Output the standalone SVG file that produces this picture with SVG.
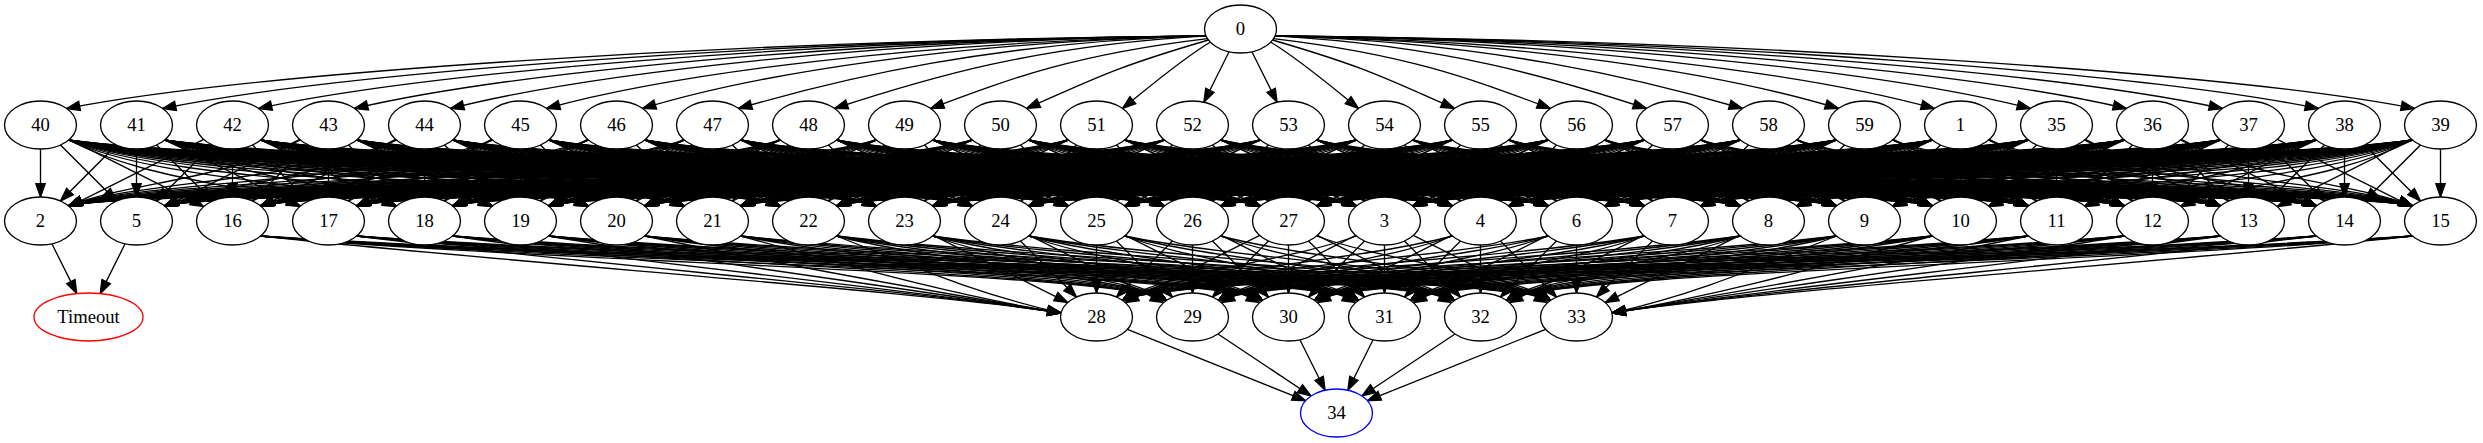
<svg xmlns="http://www.w3.org/2000/svg" xmlns:xlink="http://www.w3.org/1999/xlink" width="2483" height="443" viewBox="0 0 2483 443">
<style>
.node ellipse{fill:#fff;stroke:#000;stroke-width:1.33}
.node text{font-family:"Liberation Serif","Times New Roman",serif;font-size:18.67px;text-anchor:middle;fill:#000}
#nTimeout ellipse{stroke:#f00}
#n34 ellipse{stroke:#00f}
</style>
<defs>
<marker id="ah" markerUnits="userSpaceOnUse" markerWidth="14" markerHeight="10" refX="13.3" refY="4.67" orient="auto" style="overflow:visible"><path d="M0,0L13.3,4.67L0,9.33Z" fill="#000" stroke="#000" stroke-width="1.33"/></marker>
<g id="top">
<path d="M11.4,51.8L36.6,102.2"/>
<path d="M30,42C60,60 95,90 118,108.5"/>
<path d="M32,40C128,68 145.2,78.5 214,108.5"/>
<path d="M33,38.6C167.4,54.6 229.7,78.5 310,108.5"/>
<path d="M34.5,35.9C207.3,45.9 314.2,78.5 406,108.5"/>
<path d="M34.5,35.9C245.7,41.9 398.6,78.5 502,108.5"/>
<path d="M34.5,35.9C284.1,41.9 483.1,73.5 598,108.5"/>
<path d="M34.5,35.9C322.5,41.9 567.6,73.5 694,108.5"/>
<path d="M34.5,35.9C360.9,39.9 652.1,73.5 790,108.5"/>
<path d="M34.5,35.9C399.3,39.9 736.6,73.5 886,108.5"/>
<path d="M34.5,35.9C437.7,39.9 821,73.5 982,108.5"/>
<path d="M34.5,35.9C476.1,39.9 905.5,73.5 1078,108.5"/>
<path d="M34.5,35.9C514.5,39.9 994,73.5 1174,108.5"/>
</g>
<g id="r1"><path d="M20,145L76,201"/></g>
<g id="r2"><use href="#r1"/><path d="M28.8,139.4L163.2,206.6"/></g>
<g id="r3"><use href="#r2"/><path d="M28,140C110,182 200,182 260,206"/></g>
<g id="r4"><use href="#r3"/><path d="M28,140C120,182 296,182 356,206"/></g>
<g id="r5"><use href="#r4"/><path d="M28,140C130,182 392,182 452,206"/></g>
<g id="r6"><use href="#r5"/><path d="M28,140C140,182 488,182 548,206"/></g>
<g id="r7"><use href="#r6"/><path d="M28,140C150,182 584,182 644,206"/></g>
<g id="r8"><use href="#r7"/><path d="M28,140C160,182 680,182 740,206"/></g>
<g id="r9"><use href="#r8"/><path d="M28,140C170,182 776,182 836,206"/></g>
<g id="r10"><use href="#r9"/><path d="M28,140C180,182 872,182 932,206"/></g>
<g id="r11"><use href="#r10"/><path d="M28,140C190,182 968,182 1028,206"/></g>
<g id="r12"><use href="#r11"/><path d="M28,140C200,182 1064,182 1124,206"/></g>
<g id="r13"><use href="#r12"/><path d="M28,140C210,182 1160,182 1220,206"/></g>
<g id="r14"><use href="#r13"/><path d="M28,140C220,182 1256,182 1316,206"/></g>
<g id="r15"><use href="#r14"/><path d="M28,140C230,182 1352,182 1412,206"/></g>
<g id="r16"><use href="#r15"/><path d="M28,140C240,182 1448,182 1508,206"/></g>
<g id="r17"><use href="#r16"/><path d="M28,140C250,182 1544,182 1604,206"/></g>
<g id="r18"><use href="#r17"/><path d="M28,140C260,182 1640,182 1700,206"/></g>
<g id="r19"><use href="#r18"/><path d="M28,140C270,182 1736,182 1796,206"/></g>
<g id="r20"><use href="#r19"/><path d="M28,140C280,182 1832,182 1892,206"/></g>
<g id="r21"><use href="#r20"/><path d="M28,140C290,182 1928,182 1988,206"/></g>
<g id="r22"><use href="#r21"/><path d="M28,140C300,182 2024,182 2084,206"/></g>
<g id="r23"><use href="#r22"/><path d="M28,140C310,182 2120,182 2180,206"/></g>
<g id="r24"><use href="#r23"/><path d="M28,140C320,182 2216,182 2276,206"/></g>
<g id="r25"><use href="#r24"/><path d="M28,140C330,182 2312,182 2372,206"/></g>
<path id="a0" d="M0,245V293"/>
<path id="a1" d="M20,241L76,297"/>
<path id="a2" d="M28.8,235.4L163.2,302.6"/>
<path id="b3" d="M28,236C95.4,262 162.7,293 252.5,313"/>
<path id="b4" d="M28,236C124.2,262 228.5,293 348.5,313"/>
<path id="b5" d="M28,236C153,262 324.5,293 444.5,313"/>
<path id="b6" d="M28,236C181.8,262 420.5,293 540.5,313"/>
<path id="b7" d="M28,236C210.6,262 516.5,293 636.5,313"/>
<path id="b8" d="M28,236C239.4,262 612.5,293 732.5,313"/>
<path id="b9" d="M28,236C268.2,262 708.5,293 828.5,313"/>
<path id="c3" d="M28,236C98.2,262 222,272.5 262,300.5"/>
<path id="c4" d="M28,236C127,262 318,272.5 358,300.5"/>
<path id="c5" d="M28,236C155.8,262 414,272.5 454,300.5"/>
<path id="c6" d="M28,236C184.6,262 510,272.5 550,300.5"/>
<path id="c7" d="M28,236C213.4,262 606,272.5 646,300.5"/>
<path id="c8" d="M28,236C242.2,262 702,272.5 742,300.5"/>
<path id="c9" d="M28,236C271,262 798,272.5 838,300.5"/>
<path id="c10" d="M28,236C299.8,262 894,272.5 934,300.5"/>
<path id="c11" d="M28,236C328.6,262 990,272.5 1030,300.5"/>
<path id="c12" d="M28,236C357.4,262 1086,272.5 1126,300.5"/>
<path id="c13" d="M28,236C386.2,262 1182,272.5 1222,300.5"/>
<path id="c14" d="M28,236C415,262 1278,272.5 1318,300.5"/>
</defs>
<g id="edges" fill="none" stroke="#000" stroke-width="1.33" marker-end="url(#ah)">
<g id="e0" transform="translate(1240.5,0)"><use href="#top"/><use href="#top" transform="scale(-1,1)"/></g>
<g id="e-row1">
<g transform="translate(40.5,0)"><path d="M0,149V197"/><use href="#r25"/></g>
<g transform="translate(136.5,0)"><path d="M0,149V197"/><use href="#r24"/><use href="#r1" transform="scale(-1,1)"/></g>
<g transform="translate(232.5,0)"><path d="M0,149V197"/><use href="#r23"/><use href="#r2" transform="scale(-1,1)"/></g>
<g transform="translate(328.5,0)"><path d="M0,149V197"/><use href="#r22"/><use href="#r3" transform="scale(-1,1)"/></g>
<g transform="translate(424.5,0)"><path d="M0,149V197"/><use href="#r21"/><use href="#r4" transform="scale(-1,1)"/></g>
<g transform="translate(520.5,0)"><path d="M0,149V197"/><use href="#r20"/><use href="#r5" transform="scale(-1,1)"/></g>
<g transform="translate(616.5,0)"><path d="M0,149V197"/><use href="#r19"/><use href="#r6" transform="scale(-1,1)"/></g>
<g transform="translate(712.5,0)"><path d="M0,149V197"/><use href="#r18"/><use href="#r7" transform="scale(-1,1)"/></g>
<g transform="translate(808.5,0)"><path d="M0,149V197"/><use href="#r17"/><use href="#r8" transform="scale(-1,1)"/></g>
<g transform="translate(904.5,0)"><path d="M0,149V197"/><use href="#r16"/><use href="#r9" transform="scale(-1,1)"/></g>
<g transform="translate(1000.5,0)"><path d="M0,149V197"/><use href="#r15"/><use href="#r10" transform="scale(-1,1)"/></g>
<g transform="translate(1096.5,0)"><path d="M0,149V197"/><use href="#r14"/><use href="#r11" transform="scale(-1,1)"/></g>
<g transform="translate(1192.5,0)"><path d="M0,149V197"/><use href="#r13"/><use href="#r12" transform="scale(-1,1)"/></g>
<g transform="translate(1288.5,0)"><path d="M0,149V197"/><use href="#r12"/><use href="#r13" transform="scale(-1,1)"/></g>
<g transform="translate(1384.5,0)"><path d="M0,149V197"/><use href="#r11"/><use href="#r14" transform="scale(-1,1)"/></g>
<g transform="translate(1480.5,0)"><path d="M0,149V197"/><use href="#r10"/><use href="#r15" transform="scale(-1,1)"/></g>
<g transform="translate(1576.5,0)"><path d="M0,149V197"/><use href="#r9"/><use href="#r16" transform="scale(-1,1)"/></g>
<g transform="translate(1672.5,0)"><path d="M0,149V197"/><use href="#r8"/><use href="#r17" transform="scale(-1,1)"/></g>
<g transform="translate(1768.5,0)"><path d="M0,149V197"/><use href="#r7"/><use href="#r18" transform="scale(-1,1)"/></g>
<g transform="translate(1864.5,0)"><path d="M0,149V197"/><use href="#r6"/><use href="#r19" transform="scale(-1,1)"/></g>
<g transform="translate(1960.5,0)"><path d="M0,149V197"/><use href="#r5"/><use href="#r20" transform="scale(-1,1)"/></g>
<g transform="translate(2056.5,0)"><path d="M0,149V197"/><use href="#r4"/><use href="#r21" transform="scale(-1,1)"/></g>
<g transform="translate(2152.5,0)"><path d="M0,149V197"/><use href="#r3"/><use href="#r22" transform="scale(-1,1)"/></g>
<g transform="translate(2248.5,0)"><path d="M0,149V197"/><use href="#r2"/><use href="#r23" transform="scale(-1,1)"/></g>
<g transform="translate(2344.5,0)"><path d="M0,149V197"/><use href="#r1"/><use href="#r24" transform="scale(-1,1)"/></g>
<g transform="translate(2440.5,0)"><path d="M0,149V197"/><use href="#r25" transform="scale(-1,1)"/></g>
</g>
<g id="e-row2">
<g transform="translate(232.5,0)"><use href="#b9"/><use href="#c10"/><use href="#c11"/><use href="#c12"/><use href="#c13"/><use href="#c14"/></g>
<g transform="translate(328.5,0)"><use href="#b8"/><use href="#c9"/><use href="#c10"/><use href="#c11"/><use href="#c12"/><use href="#c13"/></g>
<g transform="translate(424.5,0)"><use href="#b7"/><use href="#c8"/><use href="#c9"/><use href="#c10"/><use href="#c11"/><use href="#c12"/></g>
<g transform="translate(520.5,0)"><use href="#b6"/><use href="#c7"/><use href="#c8"/><use href="#c9"/><use href="#c10"/><use href="#c11"/></g>
<g transform="translate(616.5,0)"><use href="#b5"/><use href="#c6"/><use href="#c7"/><use href="#c8"/><use href="#c9"/><use href="#c10"/></g>
<g transform="translate(712.5,0)"><use href="#b4"/><use href="#c5"/><use href="#c6"/><use href="#c7"/><use href="#c8"/><use href="#c9"/></g>
<g transform="translate(808.5,0)"><use href="#b3"/><use href="#c4"/><use href="#c5"/><use href="#c6"/><use href="#c7"/><use href="#c8"/></g>
<g transform="translate(904.5,0)"><use href="#a2"/><use href="#c3"/><use href="#c4"/><use href="#c5"/><use href="#c6"/><use href="#c7"/></g>
<g transform="translate(1000.5,0)"><use href="#a1"/><use href="#a2"/><use href="#c3"/><use href="#c4"/><use href="#c5"/><use href="#c6"/></g>
<g transform="translate(1096.5,0)"><use href="#a0"/><use href="#a1"/><use href="#a2"/><use href="#c3"/><use href="#c4"/><use href="#c5"/></g>
<g transform="translate(1192.5,0)"><use href="#a0"/><use href="#a1"/><use href="#a2"/><use href="#c3"/><use href="#c4"/><g transform="scale(-1,1)"><use href="#a1"/></g></g>
<g transform="translate(1288.5,0)"><use href="#a0"/><use href="#a1"/><use href="#a2"/><use href="#c3"/><g transform="scale(-1,1)"><use href="#a1"/><use href="#a2"/></g></g>
<g transform="translate(1384.5,0)"><use href="#a0"/><use href="#a1"/><use href="#a2"/><g transform="scale(-1,1)"><use href="#a1"/><use href="#a2"/><use href="#c3"/></g></g>
<g transform="translate(1480.5,0)"><use href="#a0"/><use href="#a1"/><g transform="scale(-1,1)"><use href="#a1"/><use href="#a2"/><use href="#c3"/><use href="#c4"/></g></g>
<g transform="translate(1576.5,0)"><use href="#a0"/><g transform="scale(-1,1)"><use href="#a1"/><use href="#a2"/><use href="#c3"/><use href="#c4"/><use href="#c5"/></g></g>
<g transform="translate(1672.5,0) scale(-1,1)"><use href="#a1"/><use href="#a2"/><use href="#c3"/><use href="#c4"/><use href="#c5"/><use href="#c6"/></g>
<g transform="translate(1768.5,0) scale(-1,1)"><use href="#a2"/><use href="#c3"/><use href="#c4"/><use href="#c5"/><use href="#c6"/><use href="#c7"/></g>
<g transform="translate(1864.5,0) scale(-1,1)"><use href="#b3"/><use href="#c4"/><use href="#c5"/><use href="#c6"/><use href="#c7"/><use href="#c8"/></g>
<g transform="translate(1960.5,0) scale(-1,1)"><use href="#b4"/><use href="#c5"/><use href="#c6"/><use href="#c7"/><use href="#c8"/><use href="#c9"/></g>
<g transform="translate(2056.5,0) scale(-1,1)"><use href="#b5"/><use href="#c6"/><use href="#c7"/><use href="#c8"/><use href="#c9"/><use href="#c10"/></g>
<g transform="translate(2152.5,0) scale(-1,1)"><use href="#b6"/><use href="#c7"/><use href="#c8"/><use href="#c9"/><use href="#c10"/><use href="#c11"/></g>
<g transform="translate(2248.5,0) scale(-1,1)"><use href="#b7"/><use href="#c8"/><use href="#c9"/><use href="#c10"/><use href="#c11"/><use href="#c12"/></g>
<g transform="translate(2344.5,0) scale(-1,1)"><use href="#b8"/><use href="#c9"/><use href="#c10"/><use href="#c11"/><use href="#c12"/><use href="#c13"/></g>
<g transform="translate(2440.5,0) scale(-1,1)"><use href="#b9"/><use href="#c10"/><use href="#c11"/><use href="#c12"/><use href="#c13"/><use href="#c14"/></g>
</g>
<g id="e-row3">
<path d="M1127.4,329.3L1305.6,400.7"/>
<path d="M1218,334L1311,396"/>
<path d="M1299.9,339.8L1325.1,390.2"/>
<path d="M1373.1,339.8L1347.9,390.2"/>
<path d="M1455,334L1362,396"/>
<path d="M1545.6,329.3L1367.4,400.7"/>
<path d="M51.9,243.8L76.8,293.6"/>
<path d="M125.1,243.8L100.2,293.6"/>
</g>
</g>
<g id="nodes">
<g id="n0" class="node" transform="translate(1240.5,29)"><ellipse rx="36" ry="24"/><text y="6">0</text></g>
<g id="n40" class="node" transform="translate(40.5,125)"><ellipse rx="36" ry="24"/><text y="6">40</text></g>
<g id="n41" class="node" transform="translate(136.5,125)"><ellipse rx="36" ry="24"/><text y="6">41</text></g>
<g id="n42" class="node" transform="translate(232.5,125)"><ellipse rx="36" ry="24"/><text y="6">42</text></g>
<g id="n43" class="node" transform="translate(328.5,125)"><ellipse rx="36" ry="24"/><text y="6">43</text></g>
<g id="n44" class="node" transform="translate(424.5,125)"><ellipse rx="36" ry="24"/><text y="6">44</text></g>
<g id="n45" class="node" transform="translate(520.5,125)"><ellipse rx="36" ry="24"/><text y="6">45</text></g>
<g id="n46" class="node" transform="translate(616.5,125)"><ellipse rx="36" ry="24"/><text y="6">46</text></g>
<g id="n47" class="node" transform="translate(712.5,125)"><ellipse rx="36" ry="24"/><text y="6">47</text></g>
<g id="n48" class="node" transform="translate(808.5,125)"><ellipse rx="36" ry="24"/><text y="6">48</text></g>
<g id="n49" class="node" transform="translate(904.5,125)"><ellipse rx="36" ry="24"/><text y="6">49</text></g>
<g id="n50" class="node" transform="translate(1000.5,125)"><ellipse rx="36" ry="24"/><text y="6">50</text></g>
<g id="n51" class="node" transform="translate(1096.5,125)"><ellipse rx="36" ry="24"/><text y="6">51</text></g>
<g id="n52" class="node" transform="translate(1192.5,125)"><ellipse rx="36" ry="24"/><text y="6">52</text></g>
<g id="n53" class="node" transform="translate(1288.5,125)"><ellipse rx="36" ry="24"/><text y="6">53</text></g>
<g id="n54" class="node" transform="translate(1384.5,125)"><ellipse rx="36" ry="24"/><text y="6">54</text></g>
<g id="n55" class="node" transform="translate(1480.5,125)"><ellipse rx="36" ry="24"/><text y="6">55</text></g>
<g id="n56" class="node" transform="translate(1576.5,125)"><ellipse rx="36" ry="24"/><text y="6">56</text></g>
<g id="n57" class="node" transform="translate(1672.5,125)"><ellipse rx="36" ry="24"/><text y="6">57</text></g>
<g id="n58" class="node" transform="translate(1768.5,125)"><ellipse rx="36" ry="24"/><text y="6">58</text></g>
<g id="n59" class="node" transform="translate(1864.5,125)"><ellipse rx="36" ry="24"/><text y="6">59</text></g>
<g id="n1" class="node" transform="translate(1960.5,125)"><ellipse rx="36" ry="24"/><text y="6">1</text></g>
<g id="n35" class="node" transform="translate(2056.5,125)"><ellipse rx="36" ry="24"/><text y="6">35</text></g>
<g id="n36" class="node" transform="translate(2152.5,125)"><ellipse rx="36" ry="24"/><text y="6">36</text></g>
<g id="n37" class="node" transform="translate(2248.5,125)"><ellipse rx="36" ry="24"/><text y="6">37</text></g>
<g id="n38" class="node" transform="translate(2344.5,125)"><ellipse rx="36" ry="24"/><text y="6">38</text></g>
<g id="n39" class="node" transform="translate(2440.5,125)"><ellipse rx="36" ry="24"/><text y="6">39</text></g>
<g id="n2" class="node" transform="translate(40.5,221)"><ellipse rx="36" ry="24"/><text y="6">2</text></g>
<g id="n5" class="node" transform="translate(136.5,221)"><ellipse rx="36" ry="24"/><text y="6">5</text></g>
<g id="n16" class="node" transform="translate(232.5,221)"><ellipse rx="36" ry="24"/><text y="6">16</text></g>
<g id="n17" class="node" transform="translate(328.5,221)"><ellipse rx="36" ry="24"/><text y="6">17</text></g>
<g id="n18" class="node" transform="translate(424.5,221)"><ellipse rx="36" ry="24"/><text y="6">18</text></g>
<g id="n19" class="node" transform="translate(520.5,221)"><ellipse rx="36" ry="24"/><text y="6">19</text></g>
<g id="n20" class="node" transform="translate(616.5,221)"><ellipse rx="36" ry="24"/><text y="6">20</text></g>
<g id="n21" class="node" transform="translate(712.5,221)"><ellipse rx="36" ry="24"/><text y="6">21</text></g>
<g id="n22" class="node" transform="translate(808.5,221)"><ellipse rx="36" ry="24"/><text y="6">22</text></g>
<g id="n23" class="node" transform="translate(904.5,221)"><ellipse rx="36" ry="24"/><text y="6">23</text></g>
<g id="n24" class="node" transform="translate(1000.5,221)"><ellipse rx="36" ry="24"/><text y="6">24</text></g>
<g id="n25" class="node" transform="translate(1096.5,221)"><ellipse rx="36" ry="24"/><text y="6">25</text></g>
<g id="n26" class="node" transform="translate(1192.5,221)"><ellipse rx="36" ry="24"/><text y="6">26</text></g>
<g id="n27" class="node" transform="translate(1288.5,221)"><ellipse rx="36" ry="24"/><text y="6">27</text></g>
<g id="n3" class="node" transform="translate(1384.5,221)"><ellipse rx="36" ry="24"/><text y="6">3</text></g>
<g id="n4" class="node" transform="translate(1480.5,221)"><ellipse rx="36" ry="24"/><text y="6">4</text></g>
<g id="n6" class="node" transform="translate(1576.5,221)"><ellipse rx="36" ry="24"/><text y="6">6</text></g>
<g id="n7" class="node" transform="translate(1672.5,221)"><ellipse rx="36" ry="24"/><text y="6">7</text></g>
<g id="n8" class="node" transform="translate(1768.5,221)"><ellipse rx="36" ry="24"/><text y="6">8</text></g>
<g id="n9" class="node" transform="translate(1864.5,221)"><ellipse rx="36" ry="24"/><text y="6">9</text></g>
<g id="n10" class="node" transform="translate(1960.5,221)"><ellipse rx="36" ry="24"/><text y="6">10</text></g>
<g id="n11" class="node" transform="translate(2056.5,221)"><ellipse rx="36" ry="24"/><text y="6">11</text></g>
<g id="n12" class="node" transform="translate(2152.5,221)"><ellipse rx="36" ry="24"/><text y="6">12</text></g>
<g id="n13" class="node" transform="translate(2248.5,221)"><ellipse rx="36" ry="24"/><text y="6">13</text></g>
<g id="n14" class="node" transform="translate(2344.5,221)"><ellipse rx="36" ry="24"/><text y="6">14</text></g>
<g id="n15" class="node" transform="translate(2440.5,221)"><ellipse rx="36" ry="24"/><text y="6">15</text></g>
<g id="nTimeout" class="node" transform="translate(88.5,317)"><ellipse rx="54.5" ry="24"/><text y="6">Timeout</text></g>
<g id="n28" class="node" transform="translate(1096.5,317)"><ellipse rx="36" ry="24"/><text y="6">28</text></g>
<g id="n29" class="node" transform="translate(1192.5,317)"><ellipse rx="36" ry="24"/><text y="6">29</text></g>
<g id="n30" class="node" transform="translate(1288.5,317)"><ellipse rx="36" ry="24"/><text y="6">30</text></g>
<g id="n31" class="node" transform="translate(1384.5,317)"><ellipse rx="36" ry="24"/><text y="6">31</text></g>
<g id="n32" class="node" transform="translate(1480.5,317)"><ellipse rx="36" ry="24"/><text y="6">32</text></g>
<g id="n33" class="node" transform="translate(1576.5,317)"><ellipse rx="36" ry="24"/><text y="6">33</text></g>
<g id="n34" class="node" transform="translate(1336.5,413)"><ellipse rx="36" ry="24"/><text y="6">34</text></g>
</g>
</svg>
